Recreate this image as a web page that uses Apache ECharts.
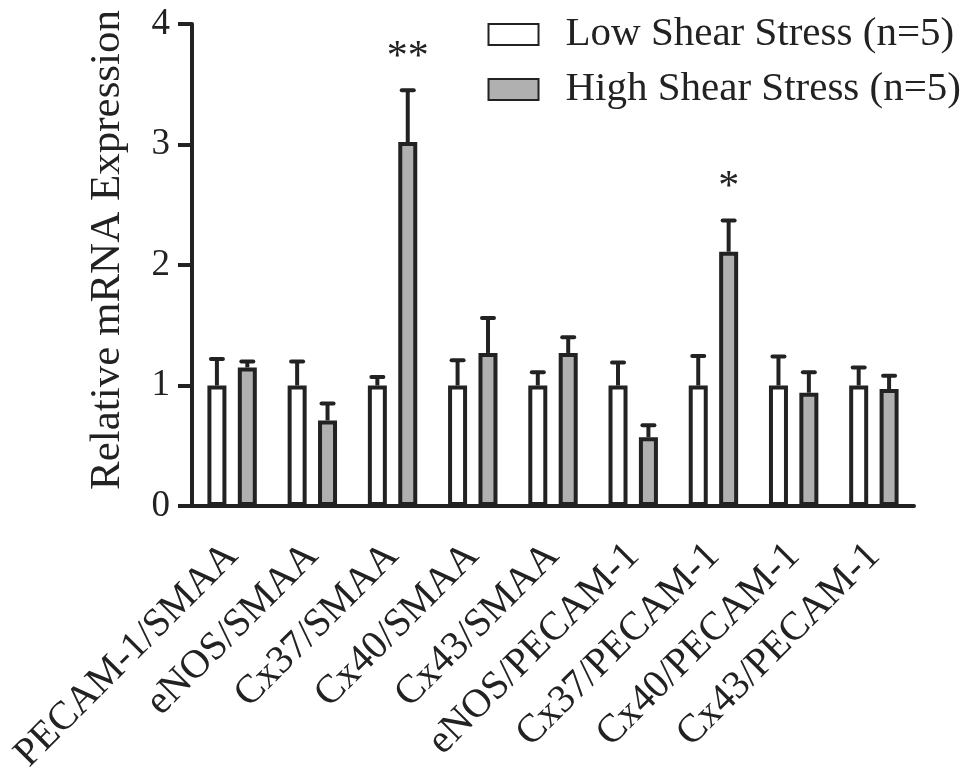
<!DOCTYPE html>
<html>
<head>
<meta charset="utf-8">
<script src="https://cdn.jsdelivr.net/npm/echarts@6/dist/echarts.min.js"></script>
<style>
html, body { margin: 0; padding: 0; background: #fff; }
#chart { width: 967px; height: 771px; }
</style>
</head>
<body>
<div id="chart"></div>
<script>
var categories = ['PECAM-1/SMAA', 'eNOS/SMAA', 'Cx37/SMAA', 'Cx40/SMAA', 'Cx43/SMAA',
  'eNOS/PECAM-1', 'Cx37/PECAM-1', 'Cx40/PECAM-1', 'Cx43/PECAM-1'];
var lowMean = [1, 1, 1, 1, 1, 1, 1, 1, 1];
var lowSem = [0.22, 0.20, 0.07, 0.21, 0.11, 0.19, 0.245, 0.24, 0.15];
var highMean = [1.15, 0.71, 3.02, 1.27, 1.27, 0.57, 2.11, 0.94, 0.97];
var highSem = [0.05, 0.14, 0.43, 0.29, 0.13, 0.10, 0.26, 0.17, 0.11];
var highSig = ['', '', '**', '', '', '', '*', '', ''];
var yTicks = [0, 1, 2, 3, 4];

var INK = '#222';
var FONT = '"Liberation Serif", "DejaVu Serif", serif';
var BAR_W = 19;
var BAR_GAP = 0.6; // fraction of bar width
var half = (BAR_W + BAR_W * BAR_GAP) / 2; // offset of each bar from category centre

// error bars (upper only), drawn through the axis scale
function errRender(offset) {
  return function (params, api) {
    var i = api.value(0);
    var top = api.coord([i, api.value(1)]);
    var end = api.coord([i, api.value(1) + api.value(2)]);
    var x = top[0] + offset;
    var kids = [
      { type: 'line', shape: { x1: x, y1: top[1], x2: x, y2: end[1] },
        style: { stroke: INK, lineWidth: 4 } },
      { type: 'line', shape: { x1: x - 6, y1: end[1], x2: x + 6, y2: end[1] },
        style: { stroke: INK, lineWidth: 4, lineCap: 'round' } }
    ];
    var sig = api.value(3);
    if (sig) {
      kids.push({ type: 'text', style: { x: x, y: end[1] - 32, text: sig, fill: INK,
        font: '42px ' + FONT, align: 'center', verticalAlign: 'middle' } });
    }
    return { type: 'group', children: kids };
  };
}

var myChart = echarts.init(document.getElementById('chart'));
var option = {
  backgroundColor: '#fff',
  animation: false,
  textStyle: { fontFamily: FONT, color: INK },
  grid: { left: 192, right: 53, top: 24, bottom: 265, outerBoundsMode: 'none', containLabel: false },
  legend: {
    orient: 'vertical',
    right: 1,
    top: 8,
    icon: 'rect',
    itemWidth: 50,
    itemHeight: 21,
    itemGap: 12,
    data: ['Low Shear Stress (n=5)', 'High Shear Stress (n=5)'],
    textStyle: { fontFamily: FONT, fontSize: 41, lineHeight: 43, color: INK, padding: [0, 0, 0, 22] }
  },
  graphic: [{
    type: 'text',
    rotation: Math.PI / 2,
    x: 108,
    y: 250,
    style: { text: 'Relative mRNA Expression', font: '43px ' + FONT, fill: INK,
      align: 'center', verticalAlign: 'middle' }
  }],
  xAxis: {
    type: 'category',
    data: categories,
    axisLine: { lineStyle: { color: INK, width: 4 } },
    axisTick: { alignWithLabel: true, length: 14, lineStyle: { color: INK, width: 4 } },
    axisLabel: { rotate: 45, margin: 44, fontSize: 40, fontFamily: FONT, color: INK, interval: 0 }
  },
  yAxis: {
    type: 'value',
    min: yTicks[0],
    max: yTicks[yTicks.length - 1],
    interval: 1,
    splitLine: { show: false },
    axisLine: { show: true, lineStyle: { color: INK, width: 4 } },
    axisTick: { show: true, length: 14, lineStyle: { color: INK, width: 4 } },
    axisLabel: { margin: 22, fontSize: 37, fontFamily: FONT, color: INK }
  },
  series: [
    {
      name: 'Low Shear Stress (n=5)',
      type: 'bar',
      data: lowMean,
      barWidth: BAR_W,
      barGap: (BAR_GAP * 100) + '%',
      itemStyle: { color: '#fff', borderColor: INK, borderWidth: 4 },
      z: 3
    },
    {
      name: 'High Shear Stress (n=5)',
      type: 'bar',
      data: highMean,
      barWidth: BAR_W,
      itemStyle: { color: '#b0b0b0', borderColor: INK, borderWidth: 4 },
      z: 3
    },
    {
      type: 'custom',
      renderItem: errRender(-half),
      data: lowMean.map(function (v, i) { return [i, v, lowSem[i], '']; }),
      z: 2, silent: true
    },
    {
      type: 'custom',
      renderItem: errRender(half),
      data: highMean.map(function (v, i) { return [i, v, highSem[i], highSig[i]]; }),
      z: 2, silent: true
    }
  ]
};
option && myChart.setOption(option);
</script>
</body>
</html>
